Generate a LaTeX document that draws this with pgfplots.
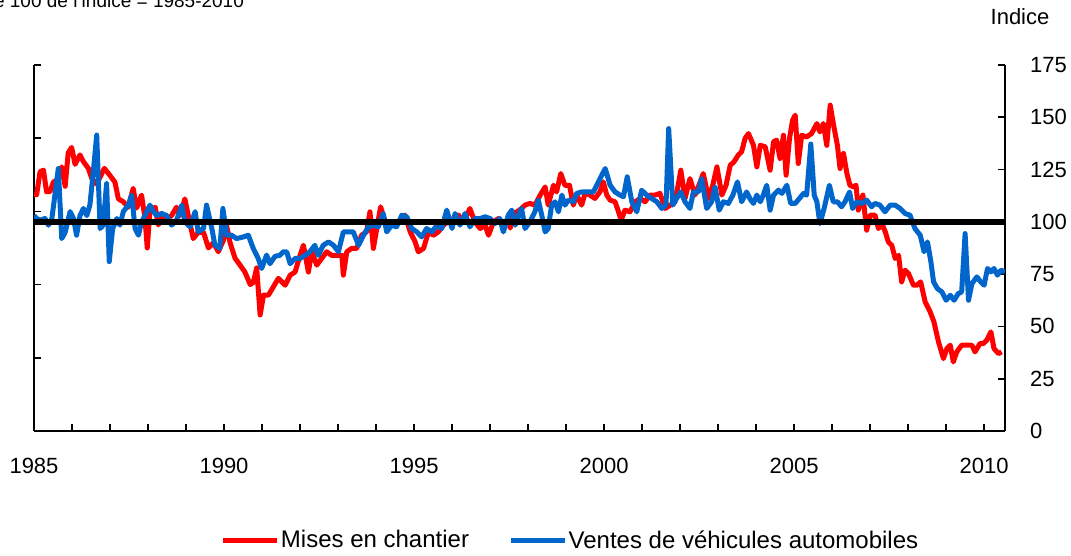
\documentclass[border=0pt]{standalone}
\usepackage{pgfplots}
\pgfplotsset{compat=1.18}
\usepackage{fontspec}
\setmainfont{Liberation Sans}
\definecolor{serred}{RGB}{255,0,0}
\definecolor{serblue}{RGB}{0,102,204}

\begin{document}
\begin{tikzpicture}[font=\fontsize{11}{13}\selectfont]
% left axis (ticks only)
\begin{axis}[
  at={(0,0)}, anchor=south west,
  scale only axis, width=485.5pt, height=183pt,
  xmin=1985, xmax=2010.55, ymin=0, ymax=175,
  axis x line=none, axis y line*=left,
  axis line style={line width=1pt,-},
  ytick={0,35,...,175}, yticklabels={},
  tick align=inside, major tick length=3.5pt,
  tick style={line width=0.8pt,black},
]
\addplot[draw=none] coordinates {(1985,0)};
\end{axis}
% main axis
\begin{axis}[
  at={(0,0)}, anchor=south west,
  scale only axis, width=485.5pt, height=183pt,
  xmin=1985, xmax=2010.55, ymin=0, ymax=175,
  axis x line*=bottom, axis y line*=right,
  axis line style={line width=1pt,-},
  xtick={1985,1990,...,2010}, minor xtick={1986,...,2009},
  ytick={0,25,...,175},
  tick align=inside,
  major tick length=3.5pt, minor tick length=3.5pt,
  tick style={line width=0.8pt,black},
  xticklabel style={yshift=-10pt},
  yticklabel style={anchor=west, xshift=9pt},
  /pgf/number format/1000 sep={},
  /pgf/number format/assume math mode=true,
  legend columns=2,
  legend cell align=left,
  legend style={at={(0.552,-0.30)}, anchor=center, draw=none, fill=none,
    /tikz/every even column/.append style={column sep=19pt},
    nodes={inner sep=0.6pt}, font=\fontsize{12}{14}\selectfont},
  legend image code/.code={\draw[#1, line width=2.6pt] (0pt,0pt) -- (27pt,0pt);},
]
\addplot[serred, line width=2.5pt, line join=round] coordinates {
(1985.00,113) (1985.07,113) (1985.16,124) (1985.25,124.7) (1985.33,114.4) (1985.42,114.4)
(1985.51,119) (1985.60,120) (1985.73,126.3) (1985.82,117) (1985.90,133) (1985.99,135.6)
(1986.08,127.5) (1986.21,132) (1986.30,128.8) (1986.43,125.6) (1986.52,120.8) (1986.65,118)
(1986.85,125.6) (1986.99,122.4) (1987.13,119) (1987.22,111) (1987.35,109.6) (1987.48,107)
(1987.61,116) (1987.70,106.6) (1987.83,112.8) (1987.92,101.8) (1987.98,87.5) (1988.05,105)
(1988.19,107) (1988.27,98.5) (1988.36,103) (1988.49,101) (1988.62,103) (1988.75,107)
(1988.84,103) (1988.97,111) (1989.06,103) (1989.19,92) (1989.32,95) (1989.46,95)
(1989.59,87.5) (1989.72,90) (1989.85,85.7) (1989.98,91) (1990.07,98) (1990.16,90)
(1990.29,82.6) (1990.42,79.4) (1990.55,76) (1990.69,70) (1990.77,71) (1990.86,78)
(1990.95,55.5) (1991.04,65) (1991.17,65) (1991.30,69) (1991.43,73) (1991.61,69.7)
(1991.74,74.5) (1991.87,76) (1992.00,84) (1992.09,88.8) (1992.22,76) (1992.31,85.7)
(1992.44,79.3) (1992.57,82.5) (1992.70,85.7) (1992.83,84) (1992.97,84) (1993.10,84)
(1993.14,74.5) (1993.23,85.7) (1993.36,87.3) (1993.49,87.3) (1993.62,93.6) (1993.75,95.2)
(1993.84,104.8) (1993.93,87.3) (1994.02,96.8) (1994.12,107.2) (1994.24,100) (1994.37,98.4)
(1994.50,99.2) (1994.63,100.8) (1994.76,103.2) (1994.90,95.2) (1995.03,90.4) (1995.11,85.7)
(1995.25,87.3) (1995.38,95.2) (1995.51,93.6) (1995.64,95.2) (1995.77,98.4) (1995.90,100)
(1996.04,101.6) (1996.17,103.2) (1996.30,100) (1996.47,106.4) (1996.60,100) (1996.74,96.8)
(1996.87,98.4) (1996.96,93.6) (1997.09,100) (1997.22,101.6) (1997.35,98.4) (1997.48,101.6)
(1997.53,97) (1997.62,104) (1997.77,105.5) (1997.92,108) (1998.05,108.8) (1998.18,108)
(1998.32,112.8) (1998.45,116.7) (1998.53,108) (1998.67,117.5) (1998.75,114.3) (1998.86,123.1)
(1998.97,117.5) (1999.09,117.5) (1999.19,108) (1999.28,112.8) (1999.41,108) (1999.50,113.6)
(1999.63,112.8) (1999.76,111.2) (1999.89,114.3) (1999.98,119.1) (2000.07,112.8) (2000.16,110.4)
(2000.29,109.6) (2000.38,104.8) (2000.45,100.8) (2000.55,105.6) (2000.68,104.8) (2000.82,109.6)
(2000.95,111.2) (2001.08,109.6) (2001.21,112.8) (2001.34,112.8) (2001.47,113.6) (2001.61,106.4)
(2001.74,108) (2001.87,109.6) (2002.02,124.7) (2002.13,111.2) (2002.26,120.7) (2002.39,112.8)
(2002.53,119.1) (2002.61,123.1) (2002.75,111.2) (2002.86,117.5) (2002.97,126.3) (2003.10,112.8)
(2003.21,117.5) (2003.32,127.1) (2003.42,128.7) (2003.53,131.9) (2003.62,133.5) (2003.71,139.9)
(2003.80,142.2) (2003.93,136.7) (2004.02,126.3) (2004.11,136.6) (2004.24,135.9) (2004.37,124.7)
(2004.46,138.3) (2004.54,139.1) (2004.63,130.3) (2004.72,141.4) (2004.79,122.3) (2004.88,139.9)
(2004.96,148.6) (2005.03,151) (2005.11,127.9) (2005.20,141.4) (2005.33,140.6) (2005.46,142.2)
(2005.60,147) (2005.68,143) (2005.77,147) (2005.86,136.6) (2005.95,155.8) (2006.04,146.2)
(2006.14,136.6) (2006.21,125.5) (2006.30,132.7) (2006.39,123.1) (2006.47,117.5) (2006.56,116.7)
(2006.63,117.5) (2006.69,105.6) (2006.81,112.8) (2006.91,96) (2007.00,103.2) (2007.13,103.2)
(2007.22,96.8) (2007.31,99.2) (2007.40,95.2) (2007.48,90.4) (2007.57,88.8) (2007.66,82.5)
(2007.75,84) (2007.83,71.3) (2007.92,76.9) (2008.01,75.3) (2008.14,69.7) (2008.23,69.7)
(2008.33,71.3) (2008.45,61.7) (2008.58,57) (2008.68,52.2) (2008.80,42.6) (2008.93,34.6)
(2009.02,39.4) (2009.11,41) (2009.19,33) (2009.28,37.8) (2009.41,41) (2009.54,41)
(2009.68,41) (2009.76,37.8) (2009.89,41.8) (2009.98,41.8) (2010.07,43.4) (2010.18,47.4)
(2010.26,39.4) (2010.38,37) (2010.46,37.8)
};
\addlegendentry{Mises en chantier}
\addplot[serblue, line width=2.5pt, line join=round] coordinates {
(1985.00,103) (1985.07,101.6) (1985.16,100.8) (1985.29,101.6) (1985.38,98.4) (1985.47,101.6)
(1985.55,112.8) (1985.64,125.5) (1985.73,92) (1985.82,95) (1985.95,104.9) (1986.04,101.6)
(1986.12,93.6) (1986.21,103) (1986.30,106.4) (1986.39,103) (1986.47,108) (1986.56,123.9)
(1986.65,141.5) (1986.74,96.8) (1986.82,98.4) (1986.91,118.3) (1986.98,81) (1987.07,96.8)
(1987.18,101.6) (1987.26,98.4) (1987.35,104.9) (1987.48,108) (1987.57,112.8) (1987.66,96.8)
(1987.75,93.6) (1987.83,100) (1987.92,103) (1988.05,108) (1988.14,104.9) (1988.23,103)
(1988.36,104) (1988.49,103) (1988.62,98.4) (1988.75,100.8) (1988.89,108) (1988.97,100)
(1989.11,97.6) (1989.24,104.9) (1989.32,95.2) (1989.46,96.8) (1989.54,108) (1989.68,96.8)
(1989.76,88.9) (1989.89,87.3) (1989.97,106.4) (1990.07,93.6) (1990.20,93.6) (1990.33,92)
(1990.51,92.8) (1990.64,93.6) (1990.77,87.3) (1990.90,82.5) (1990.99,77.7) (1991.12,84.1)
(1991.21,80) (1991.34,83.5) (1991.47,84) (1991.56,85.7) (1991.65,85.7) (1991.74,80)
(1991.87,82.5) (1992.00,82.5) (1992.13,84) (1992.26,85.7) (1992.39,88.8) (1992.48,84)
(1992.61,88.8) (1992.75,90.4) (1992.88,88.8) (1993.01,85.7) (1993.14,95.2) (1993.27,95.2)
(1993.40,95.2) (1993.54,88.8) (1993.67,93.6) (1993.80,97.6) (1993.93,98.4) (1994.06,97.6)
(1994.19,104) (1994.28,95.2) (1994.41,98.4) (1994.54,97.6) (1994.68,103.2) (1994.81,102.4)
(1994.94,96.8) (1995.07,95.2) (1995.20,92.8) (1995.33,96.8) (1995.47,95.2) (1995.60,98.4)
(1995.73,96.8) (1995.86,105.6) (1996.00,96.8) (1996.08,104) (1996.21,98.4) (1996.34,104)
(1996.47,97.6) (1996.61,101.6) (1996.74,101.6) (1996.87,102.4) (1997.00,101.6) (1997.13,99.2)
(1997.26,101.6) (1997.35,95.2) (1997.48,103.2) (1997.57,105.6) (1997.66,98.4) (1997.75,103.2)
(1997.83,106.4) (1997.92,96.8) (1998.05,100) (1998.18,104.8) (1998.27,110.4) (1998.36,103.2)
(1998.45,95.2) (1998.53,96.8) (1998.62,108) (1998.71,109.6) (1998.80,104.8) (1998.89,112.8)
(1998.97,108) (1999.06,110.4) (1999.19,109.6) (1999.28,113.6) (1999.41,114.3) (1999.54,114.3)
(1999.72,114.3) (1999.85,119.1) (2000.03,125.5) (2000.16,117.5) (2000.29,114.3) (2000.42,112.8)
(2000.51,112) (2000.61,121.5) (2000.73,109.6) (2000.86,104.8) (2000.99,115.1) (2001.12,112.8)
(2001.25,111.2) (2001.39,109.6) (2001.52,106.4) (2001.63,108) (2001.70,144.6) (2001.81,108)
(2001.91,111.2) (2002.02,114.3) (2002.13,109.6) (2002.26,106.4) (2002.35,114.3) (2002.48,114.3)
(2002.57,120.7) (2002.70,106.4) (2002.83,109.6) (2002.92,116.7) (2003.03,105.6) (2003.14,109.6)
(2003.27,108.8) (2003.39,112.8) (2003.51,119.1) (2003.62,109.6) (2003.75,114.3) (2003.84,111)
(2003.93,108.8) (2004.02,112.8) (2004.11,109.6) (2004.19,112.8) (2004.28,117.5) (2004.37,105.6)
(2004.46,112.8) (2004.59,115.2) (2004.68,113.6) (2004.81,117.5) (2004.91,108.8) (2005.03,108.8)
(2005.14,111.2) (2005.25,113.6) (2005.33,112.8) (2005.44,137.2) (2005.53,112.8) (2005.60,109.6)
(2005.68,99.2) (2005.79,106.4) (2005.93,117.5) (2006.03,109.6) (2006.14,109.6) (2006.25,107.2)
(2006.34,109.6) (2006.46,114.3) (2006.54,106.4) (2006.65,109.6) (2006.78,108.8) (2006.91,110.4)
(2007.04,107.2) (2007.13,108.8) (2007.26,108) (2007.39,104.8) (2007.53,108) (2007.66,108)
(2007.79,106.4) (2007.92,104) (2008.05,103.2) (2008.18,96.8) (2008.32,93.6) (2008.42,85.7)
(2008.51,90.4) (2008.60,80.9) (2008.67,71.3) (2008.77,68.1) (2008.89,66.5) (2009.00,62.5)
(2009.11,64.9) (2009.21,62.5) (2009.32,65.7) (2009.41,66.5) (2009.50,94.4) (2009.59,62.5)
(2009.68,70.5) (2009.81,73.7) (2009.91,71.3) (2010.00,69.7) (2010.09,77.7) (2010.18,76.1)
(2010.26,77.7) (2010.35,74.5) (2010.44,76.9) (2010.55,76.1)
};
\addlegendentry{Ventes de véhicules automobiles}
\addplot[black, line width=3pt, forget plot] coordinates {(1985,100) (2010.55,100)};
\end{axis}
\node[anchor=center] at (493pt,207pt) {Indice};
\node[anchor=base east, font=\fontsize{9.5}{11}\selectfont] at (108.5pt,211.5pt) {Base 100 de l'indice = 1985-2010};
\pgfresetboundingbox
\useasboundingbox (-17pt,-62.5pt) rectangle (518.5pt,215.5pt);
\end{tikzpicture}
\end{document}
